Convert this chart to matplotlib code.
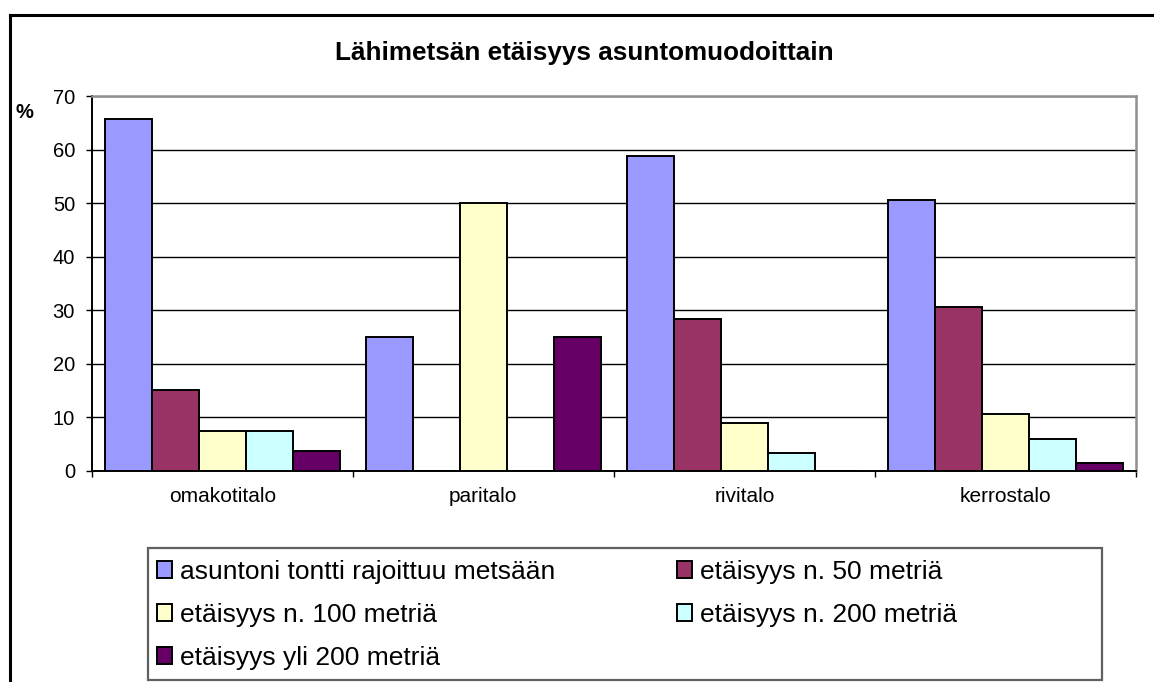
import numpy as np
import matplotlib
matplotlib.use("Agg")
import matplotlib.pyplot as plt
from matplotlib.patches import Rectangle
from matplotlib.lines import Line2D

plt.rcParams["font.family"] = ["Liberation Sans", "DejaVu Sans"]

categories = ["omakotitalo", "paritalo", "rivitalo", "kerrostalo"]
series = ["asuntoni tontti rajoittuu metsään", "etäisyys n. 50 metriä",
          "etäisyys n. 100 metriä", "etäisyys n. 200 metriä",
          "etäisyys yli 200 metriä"]
tontti = [65.7, 25.0, 58.8, 50.5]
m50 = [15.1, 0.0, 28.4, 30.6]
m100 = [7.5, 50.0, 9.0, 10.6]
m200 = [7.5, 0.0, 3.4, 6.0]
yli200 = [3.7, 25.0, 0.0, 1.4]
colors = ["#9999FF", "#993366", "#FFFFCC", "#CCFFFF", "#660066"]
yticks = [0, 10, 20, 30, 40, 50, 60, 70]

W, H = 1154, 682
fig = plt.figure(figsize=(W / 100, H / 100), dpi=100)

def fx(px):
    return px / W

def fy(py):
    return 1 - py / H

# outer chart border (right/bottom cut off in the reference)
fig.add_artist(Line2D([fx(10), 1.0], [fy(15), fy(15)], color="black", lw=2.2))
fig.add_artist(Line2D([fx(10), fx(10)], [fy(15), 0.0], color="black", lw=2.2))

ax = fig.add_axes([fx(91.7), fy(470.7), fx(1136) - fx(91.7), fy(96) - fy(470.7)])

x = np.arange(len(categories))
bw = 0.18
data = [tontti, m50, m100, m200, yli200]
handles = []
for i, (vals, c) in enumerate(zip(data, colors)):
    b = ax.bar(x + (i - 2) * bw, vals, bw, color=c, edgecolor="black",
               linewidth=1.4, zorder=3, label=series[i])
    handles.append(b)

ax.set_xlim(-0.5, len(categories) - 0.5)
ax.set_ylim(0, 70)
ax.set_yticks(yticks)
ax.set_yticklabels([str(v) for v in yticks], fontsize=14.5)
ax.yaxis.grid(True, color="black", linewidth=1.0, zorder=0)
ax.tick_params(axis="y", direction="out", length=4, width=1, pad=8)

ax.set_xticks(np.arange(-0.5, len(categories), 1.0))
ax.set_xticklabels([])
ax.set_xticks(x, minor=True)
ax.set_xticklabels(categories, minor=True, fontsize=15)
ax.tick_params(axis="x", which="major", direction="out", length=4, width=1)
ax.tick_params(axis="x", which="minor", length=0, pad=12)

for side in ["top", "right"]:
    ax.spines[side].set_color("#909090")
    ax.spines[side].set_linewidth(1.8)
for side in ["left", "bottom"]:
    ax.spines[side].set_color("black")
    ax.spines[side].set_linewidth(1.4)

fig.text(fx(584), fy(53), "Lähimetsän etäisyys asuntomuodoittain",
         ha="center", va="center", fontsize=18.8, fontweight="bold")
fig.text(fx(24), fy(112), "%", ha="center", va="center", fontsize=14.5,
         fontweight="bold")

# legend box
fig.add_artist(Rectangle((fx(148), fy(680)), fx(1102) - fx(148), fy(548) - fy(680),
                         transform=fig.transFigure, facecolor="white",
                         edgecolor="#606060", linewidth=1.6))
order = [0, 2, 4, 1, 3]
leg = fig.legend([handles[k] for k in order], [series[k] for k in order],
                 ncol=2, loc="upper left", bbox_to_anchor=(fx(157), fy(560)),
                 frameon=False, fontsize=19, borderpad=0, borderaxespad=0,
                 handlelength=0.58, handleheight=0.58, handletextpad=0.3,
                 labelspacing=0.72, columnspacing=4.6)

fig.savefig("out.png", dpi=100)
